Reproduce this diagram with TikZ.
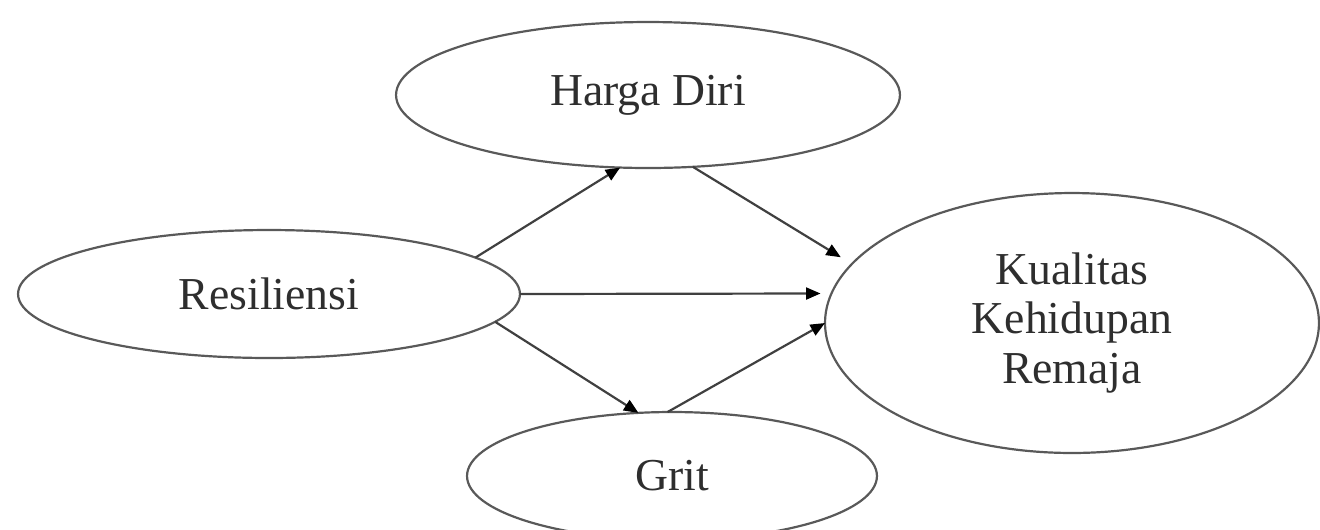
\documentclass[tikz,border=0pt]{standalone}
\usepackage{fontspec}
\setmainfont{Liberation Serif}
\usetikzlibrary{shapes.geometric,arrows.meta}
\begin{document}
\begin{tikzpicture}[x=0.02cm,y=-0.02cm,
  var/.style={ellipse, draw=black!65, line width=1.25pt, inner sep=0pt, outer sep=0pt,
    text=black!82, font=\fontsize{26}{28}\selectfont, align=center},
  link/.style={draw=black!75, line width=1.25pt, -{Triangle[length=0.29cm,width=0.24cm,fill=black,color=black]}}
]
\useasboundingbox (0,0) rectangle (1320,529);
\clip (0,0) rectangle (1320,529);
\node[var, minimum width=10.08cm, minimum height=2.92cm] (H) at (648,95) {Harga Diri};
\node[var, minimum width=10.04cm, minimum height=2.56cm] (R) at (269,294) {Resiliensi};
\node[var, minimum width=9.88cm, minimum height=5.2cm] (K) at (1072,323) {Kualitas\\Kehidupan\\Remaja};
\node[var, minimum width=8.2cm, minimum height=2.56cm] (G) at (672,476) {Grit};
\draw[link] (R.10) -- (H.-111);
\draw[link, shorten >=0.26cm] (H.-58) -- (K.165);
\draw[link, shorten >=0.22cm] (R.0) -- (K.173);
\draw[link] (R.-7) -- (G.118);
\draw[link] (G.94) -- (K.180);
\end{tikzpicture}
\end{document}
